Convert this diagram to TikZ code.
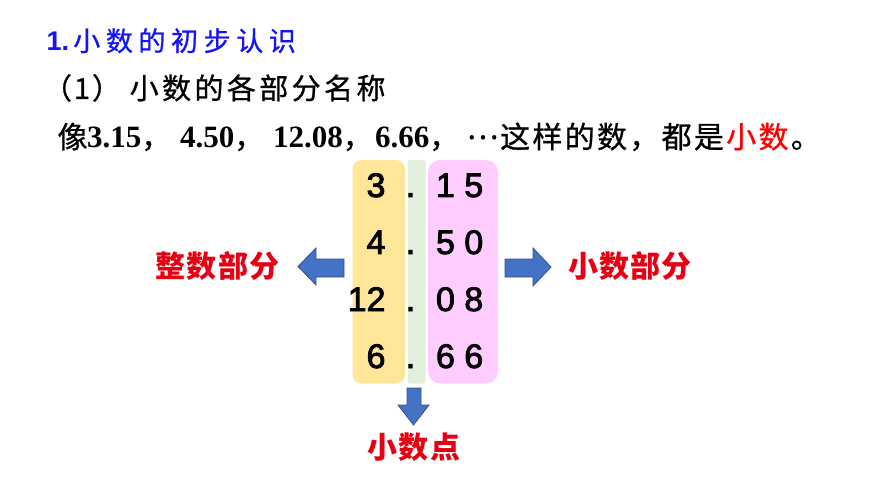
\documentclass[tikz,border=0pt]{standalone}
\usepackage{fontspec}
\newfontfamily\cjk{Noto Sans CJK SC}[FakeBold=0.8]
\newfontfamily\cjkb{Noto Sans CJK SC}
\newfontfamily\tnr{Liberation Serif}
\newfontfamily\ari{Liberation Sans}
\newfontfamily\arid{Liberation Sans}[FakeBold=2.5]
\definecolor{tblue}{RGB}{20,20,250}
\definecolor{lred}{RGB}{230,0,18}
\definecolor{yel}{RGB}{255,230,153}
\definecolor{grn}{RGB}{226,239,218}
\definecolor{pnk}{RGB}{255,204,255}
\definecolor{afill}{RGB}{68,114,196}
\definecolor{aline}{RGB}{47,82,143}
\makeatletter
\newcommand\cells[2]{\@tfor\@cc:=#2\do{\makebox[#1pt][c]{\@cc}}}
\makeatother
\newcommand\nb[1]{{\tnr\bfseries\fontsize{31}{31}\selectfont #1}}
\tikzset{
  txt/.style={inner sep=0pt, outer sep=0pt},
  digit/.style={txt, font=\arid\fontsize{34}{34}\selectfont},
  lbl/.style={txt, anchor=base, text=lred, font=\cjkb\bfseries\fontsize{30}{30}\selectfont},
  blockarrow/.style={fill=afill, draw=aline, line width=0.8pt, line join=miter}
}
\begin{document}
\begin{tikzpicture}[x=1pt,y=-1pt]
\useasboundingbox (0,0) rectangle (870,489);
% title lines
\node[txt, anchor=base west, text=tblue] (t1) at (46.5,51)
  {\makebox[24pt][l]{\ari\bfseries\fontsize{27}{27}\selectfont 1.}{\cjk\fontsize{27}{27}\selectfont \cells{32.6}{小数的初步认识}}};
\node[txt, anchor=base west] (t2) at (44,99)
  {\cjk\fontsize{29}{29}\selectfont \makebox[28pt][r]{（}\makebox[20pt][c]{1}\makebox[36pt][l]{）}\cells{32.4}{小数的各部分名称}};
\node[txt, anchor=base west] (t3) at (58,148)
  {\cjk\fontsize{30}{30}\selectfont \makebox[29pt][c]{像}\makebox[93pt][l]{\nb{3.15}，}\makebox[93pt][l]{\nb{4.50}，}\makebox[102pt][l]{\nb{12.08}，}\makebox[91pt][l]{\nb{6.66}，}\makebox[33pt][c]{\raisebox{9pt}{…}}\cells{32.3}{这样的数，都是}{\color{red}\cells{32.3}{小数}}\cells{32.3}{。}};
% column backgrounds
\fill[yel, rounded corners=9] (352.5,160) rectangle (405,383.5);
\fill[grn, rounded corners=2] (408,160) rectangle (425.5,383.5);
\fill[pnk, rounded corners=12] (428,160) rectangle (498,383.5);
% numbers
\foreach \i/\a [count=\k] in {3/1 5,4/5 0,12/0 8,6/6 6}{
  \pgfmathsetmacro{\yy}{197+57*(\k-1)}
  \node[digit, anchor=base east] (int\k) at (385.5,\yy) {\i};
  \node[digit, anchor=base] (dot\k) at (410.5,\yy) {.};
  \node[digit, anchor=base west] (frac\k) at (436,\yy) {\a};
}
% arrows
\draw[blockarrow] (298,266.5) -- (316,248) -- (316,259) -- (344,259) -- (344,277) -- (316,277) -- (316,285) -- cycle;
\draw[blockarrow] (551,267) -- (533,248) -- (533,259) -- (505,259) -- (505,277) -- (533,277) -- (533,286) -- cycle;
\draw[blockarrow] (413.5,425) -- (398,405) -- (407,405) -- (407,388) -- (421,388) -- (421,405) -- (429,405) -- cycle;
% labels
\node[lbl] (lint) at (217.5,277) {\cells{31.3}{整数部分}};
\node[lbl] (lfrac) at (630,277) {\cells{31.3}{小数部分}};
\node[lbl] (ldot) at (414,458) {\cells{31.3}{小数点}};
\end{tikzpicture}
\end{document}
